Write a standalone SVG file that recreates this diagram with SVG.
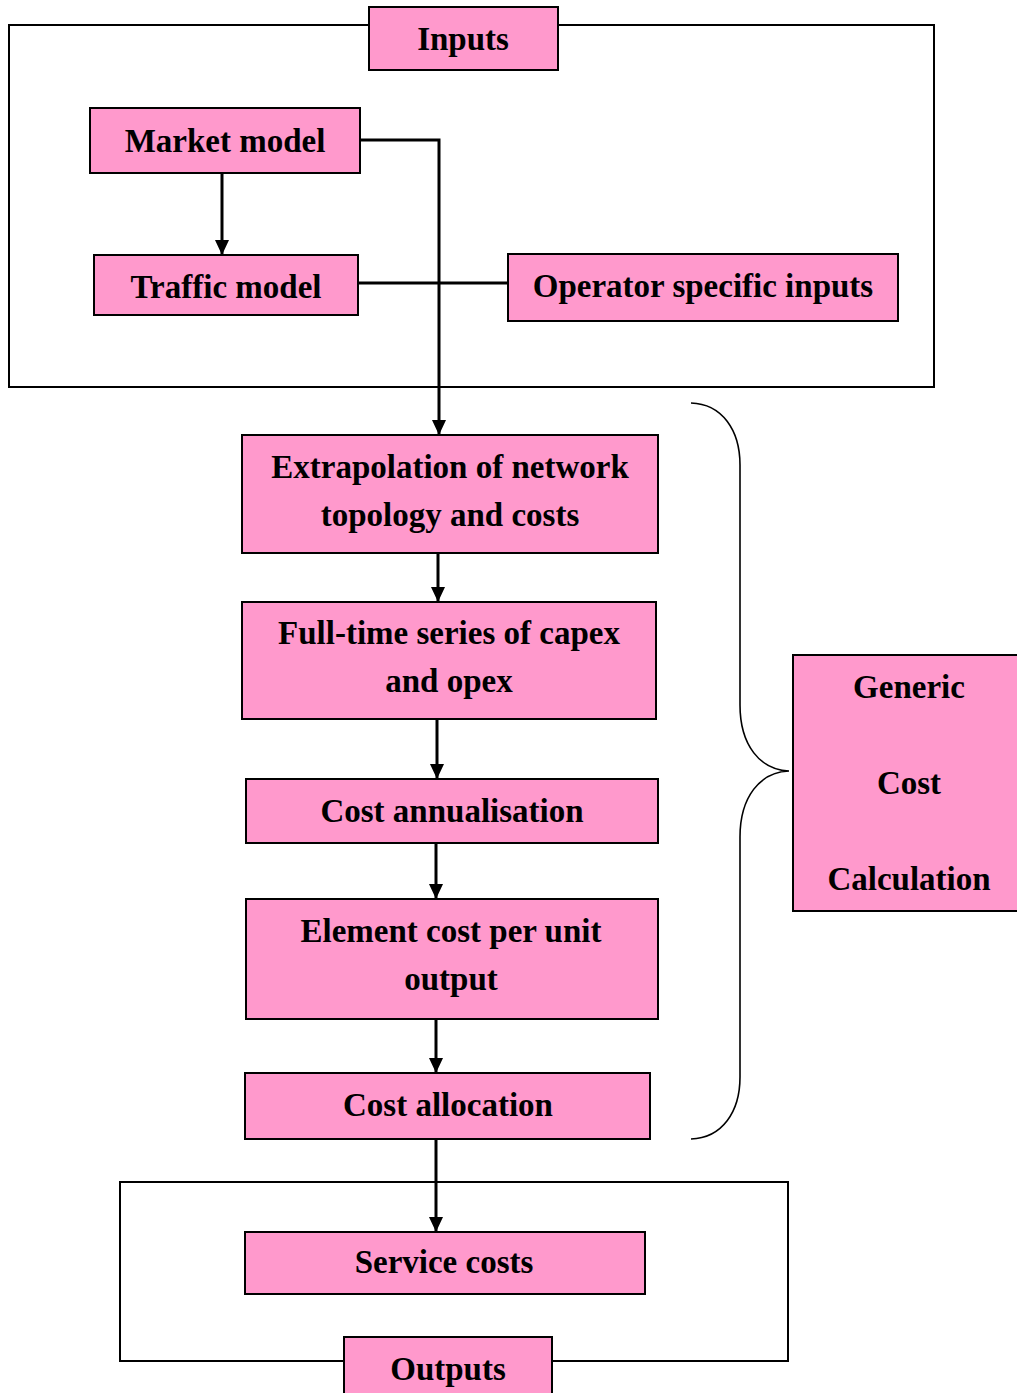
<svg xmlns="http://www.w3.org/2000/svg" width="1017" height="1393" viewBox="0 0 1017 1393">
<style>
.box{fill:#FF99CC;stroke:#000;stroke-width:2}
.frame{fill:none;stroke:#000;stroke-width:2}
.lbl{font-family:"Liberation Serif","Times New Roman",serif;font-weight:bold;font-size:33px;fill:#000;text-anchor:middle}
.con{fill:none;stroke:#000;stroke-width:3}
.brace{fill:none;stroke:#000;stroke-width:1.6}
</style>
<defs>
<marker id="ah" markerUnits="userSpaceOnUse" markerWidth="16" markerHeight="16" refX="15" refY="7" orient="auto">
<path d="M0,0 L15,7 L0,14 z" fill="#000"/>
</marker>
</defs>
<g id="frames">
<rect class="frame" x="9" y="25" width="925" height="362"/>
<rect class="frame" x="120" y="1182" width="668" height="179"/>
</g>
<g id="inputs"><rect class="box" x="369" y="7" width="189" height="63"/><text class="lbl" x="463" y="50">Inputs</text></g>
<g id="market"><rect class="box" x="90" y="108" width="270" height="65"/><text class="lbl" x="225" y="152">Market model</text></g>
<g id="traffic"><rect class="box" x="94" y="255" width="264" height="60"/><text class="lbl" x="226" y="298">Traffic model</text></g>
<g id="operator"><rect class="box" x="508" y="254" width="390" height="67"/><text class="lbl" x="703" y="297">Operator specific inputs</text></g>
<g id="extrapolation"><rect class="box" x="242" y="435" width="416" height="118"/><text class="lbl" x="450" y="478">Extrapolation of network</text><text class="lbl" x="450" y="526">topology and costs</text></g>
<g id="fulltime"><rect class="box" x="242" y="602" width="414" height="117"/><text class="lbl" x="449" y="644">Full-time series of capex</text><text class="lbl" x="449" y="692">and opex</text></g>
<g id="annualisation"><rect class="box" x="246" y="779" width="412" height="64"/><text class="lbl" x="452" y="822">Cost annualisation</text></g>
<g id="element"><rect class="box" x="246" y="899" width="412" height="120"/><text class="lbl" x="451" y="942">Element cost per unit</text><text class="lbl" x="451" y="990">output</text></g>
<g id="allocation"><rect class="box" x="245" y="1073" width="405" height="66"/><text class="lbl" x="448" y="1116">Cost allocation</text></g>
<g id="service"><rect class="box" x="245" y="1232" width="400" height="62"/><text class="lbl" x="444" y="1273">Service costs</text></g>
<g id="outputs"><rect class="box" x="344" y="1337" width="208" height="70"/><text class="lbl" x="448" y="1380">Outputs</text></g>
<g id="generic"><rect class="box" x="793" y="655" width="230" height="256"/><text class="lbl" x="909" y="698">Generic</text><text class="lbl" x="909" y="794">Cost</text><text class="lbl" x="909" y="890">Calculation</text></g>
<g id="brace"><path class="brace" d="M691,403 C722,404 740,430 740,465 L740,705 C740,745 760,770 789,771 C760,772 740,797 740,837 L740,1077 C740,1112 722,1138 691,1139"/></g>
<g id="connectors">
<path class="con" d="M222,173 L222,255" marker-end="url(#ah)"/>
<path class="con" d="M360,140 L439,140 L439,435" marker-end="url(#ah)"/>
<path class="con" d="M358,283 L508,283"/>
<path class="con" d="M438,553 L438,602" marker-end="url(#ah)"/>
<path class="con" d="M437,719 L437,779" marker-end="url(#ah)"/>
<path class="con" d="M436,843 L436,899" marker-end="url(#ah)"/>
<path class="con" d="M436,1019 L436,1073" marker-end="url(#ah)"/>
<path class="con" d="M436,1139 L436,1232" marker-end="url(#ah)"/>
</g>
</svg>
